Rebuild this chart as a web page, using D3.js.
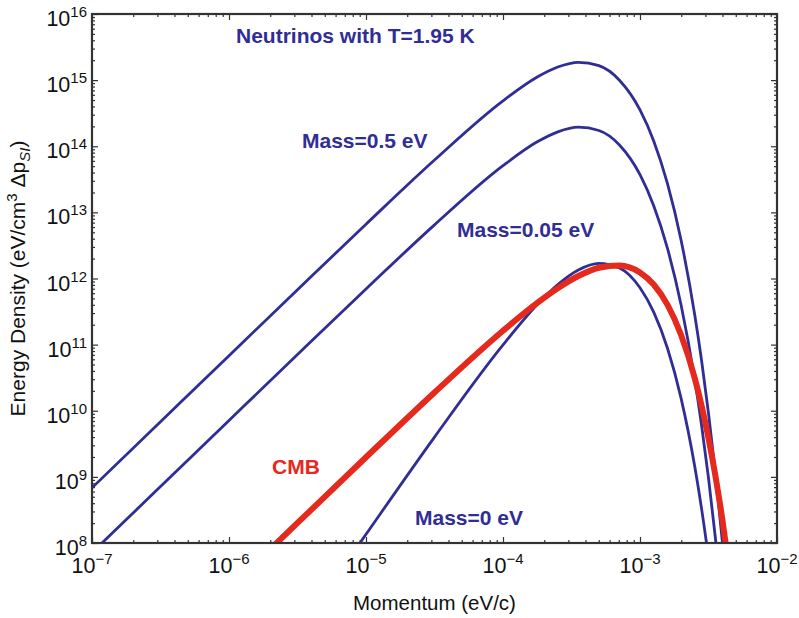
<!DOCTYPE html>
<html>
<head>
<meta charset="utf-8">
<script src="https://cdn.jsdelivr.net/npm/d3@7/dist/d3.min.js"></script>
<style>
  html, body { margin: 0; padding: 0; background: #fff; }
  svg { display: block; font-family: "Liberation Sans", Arial, Helvetica, sans-serif; }
</style>
</head>
<body>
<svg id="chart" width="799" height="618"></svg>
<script>
// Momentum grid (eV/c)
const momentum = [1e-7, 3.162e-7, 1e-6, 3.162e-6, 1e-5, 3.162e-5, 1e-4, 1.778e-4, 2.512e-4,
  3.548e-4, 5.012e-4, 7.079e-4, 1e-3, 1.259e-3, 1.585e-3, 1.995e-3, 2.512e-3, 2.818e-3,
  3.162e-3, 3.548e-3, 3.981e-3, 4.467e-3];

// Energy density per momentum bin (eV/cm^3 per Δp_SI)
const nuMass05 = [6.83e8, 6.82e9, 6.81e10, 6.77e11, 6.63e12, 6.19e13, 4.86e14, 1.113e15, 1.579e15,
  1.857e15, 1.654e15, 9.98e14, 3.545e14, 1.204e14, 2.747e13, 3.784e12, 2.772e11, 5.65e10,
  9.165e9, 1.157e9, 1.104e8, 7.80e6];
const nuMass005 = [7.15e7, 7.14e8, 7.13e9, 7.09e10, 6.94e11, 6.48e12, 5.09e13, 1.166e14, 1.653e14,
  1.945e14, 1.732e14, 1.045e14, 3.711e13, 1.261e13, 2.876e12, 3.962e11, 2.902e10, 5.92e9,
  9.60e8, 1.212e8, 1.156e7, 8.17e5];
const nuMass0 = [1.39e2, 4.41e3, 1.39e5, 4.37e6, 1.353e8, 4.00e9, 9.91e10, 4.04e11, 8.09e11,
  1.345e12, 1.692e12, 1.443e12, 7.23e11, 3.095e11, 8.88e10, 1.542e10, 1.422e9, 3.25e8,
  5.92e7, 8.38e6, 8.97e5, 7.11e4];
const cmb = [2.02e5, 2.02e6, 2.02e7, 2.01e8, 1.98e9, 1.889e10, 1.622e11, 4.276e11, 7.13e11,
  1.089e12, 1.455e12, 1.576e12, 1.235e12, 8.10e11, 4.02e11, 1.396e11, 3.086e10, 1.184e10,
  3.858e9, 1.053e9, 2.355e8, 4.20e7];

const xTickExps = [-7, -6, -5, -4, -3, -2];
const yTickExps = [8, 9, 10, 11, 12, 13, 14, 15, 16];

const seriesNames = ["Mass=0.5 eV", "Mass=0.05 eV", "Mass=0 eV", "CMB"];
const titleText = "Neutrinos with T=1.95 K";

const BLUE = "#302d95";
const RED = "#e5291d";
const AXIS = "#333";

const svg = d3.select("#chart");
const margin = { left: 92, top: 14, right: 22, bottom: 75 };
const W = 799, H = 618;

const x = d3.scaleLog().domain([1e-7, 1e-2]).range([margin.left, W - margin.right]);
const y = d3.scaleLog().domain([1e8, 1e16]).range([H - margin.bottom, margin.top]);

const [x0, x1] = x.range();
const [y0, y1] = y.range(); // y0 bottom, y1 top

svg.append("defs").append("clipPath").attr("id", "plot-clip")
  .append("rect").attr("x", x0).attr("y", y1).attr("width", x1 - x0).attr("height", y0 - y1);

// Minor/major tick values for log axes
function logMinors(lo, hi) {
  const out = [];
  for (let e = lo; e < hi; e++) for (let m = 2; m <= 9; m++) out.push(m * Math.pow(10, e));
  return out;
}
const xMajor = xTickExps.map(e => Math.pow(10, e));
const yMajor = yTickExps.map(e => Math.pow(10, e));
const xMinor = logMinors(-7, -2);
const yMinor = logMinors(8, 16);

function tickAxis(gen, values, size, transform) {
  svg.append("g").attr("transform", transform)
    .call(gen.tickValues(values).tickSize(size).tickSizeOuter(0).tickFormat(""))
    .call(g => g.select(".domain").remove())
    .call(g => g.selectAll("line").attr("stroke", AXIS).attr("stroke-width", 1.2));
}
// inward ticks on all four sides
tickAxis(d3.axisBottom(x), xMajor, -6, `translate(0,${y0})`);
tickAxis(d3.axisBottom(x), xMinor, -3, `translate(0,${y0})`);
tickAxis(d3.axisTop(x), xMajor, -6, `translate(0,${y1})`);
tickAxis(d3.axisTop(x), xMinor, -3, `translate(0,${y1})`);
tickAxis(d3.axisLeft(y), yMajor, -6, `translate(${x0},0)`);
tickAxis(d3.axisLeft(y), yMinor, -3, `translate(${x0},0)`);
tickAxis(d3.axisRight(y), yMajor, -6, `translate(${x1},0)`);
tickAxis(d3.axisRight(y), yMinor, -3, `translate(${x1},0)`);

// Curves
const line = d3.line()
  .x(d => x(d[0]))
  .y(d => y(d[1]))
  .curve(d3.curveMonotoneX);

const plot = svg.append("g").attr("clip-path", "url(#plot-clip)");
const blueSeries = [nuMass05, nuMass005, nuMass0];
blueSeries.forEach(vals => {
  plot.append("path")
    .datum(momentum.map((p, i) => [p, vals[i]]))
    .attr("d", line)
    .attr("fill", "none")
    .attr("stroke", BLUE)
    .attr("stroke-width", 2.8);
});
plot.append("path")
  .datum(momentum.map((p, i) => [p, cmb[i]]))
  .attr("d", line)
  .attr("fill", "none")
  .attr("stroke", RED)
  .attr("stroke-width", 6)
  .attr("stroke-linecap", "butt");

// Frame
svg.append("rect")
  .attr("x", x0).attr("y", y1).attr("width", x1 - x0).attr("height", y0 - y1)
  .attr("fill", "none").attr("stroke", AXIS).attr("stroke-width", 2.2);

// Tick labels: 10 with superscript exponent
const tickFont = 21.5, supFont = 15;
xTickExps.forEach(e => {
  const t = svg.append("text")
    .attr("x", x(Math.pow(10, e)))
    .attr("y", y0 + 30)
    .attr("text-anchor", "middle")
    .attr("fill", "#111")
    .attr("font-size", tickFont);
  t.append("tspan").text("10");
  t.append("tspan").attr("dy", -9).attr("font-size", supFont).text("\u2212" + Math.abs(e));
});
yTickExps.forEach(e => {
  const t = svg.append("text")
    .attr("x", x0 - 5)
    .attr("y", y(Math.pow(10, e)) + 12)
    .attr("text-anchor", "end")
    .attr("fill", "#111")
    .attr("font-size", tickFont);
  t.append("tspan").text("10");
  t.append("tspan").attr("dy", -9).attr("font-size", supFont).text(String(e));
});

// Axis titles
svg.append("text")
  .attr("x", (x0 + x1) / 2)
  .attr("y", 610)
  .attr("text-anchor", "middle")
  .attr("font-size", 20.5)
  .attr("fill", "#111")
  .text("Momentum (eV/c)");

const yl = svg.append("text")
  .attr("transform", `translate(25,${(y0 + y1) / 2}) rotate(-90)`)
  .attr("text-anchor", "middle")
  .attr("font-size", 21)
  .attr("fill", "#111");
yl.append("tspan").text("Energy Density (eV/cm");
yl.append("tspan").attr("dy", -8).attr("font-size", 15).text("3");
yl.append("tspan").attr("dy", 8).text(" \u0394p");
yl.append("tspan").attr("dy", 5).attr("font-size", 15).attr("font-style", "italic").text("SI");
yl.append("tspan").attr("dy", -5).text(")");

// Annotations
const ann = [
  { text: titleText, x: 236, y: 43, color: BLUE },
  { text: seriesNames[0], x: 302, y: 148, color: BLUE },
  { text: seriesNames[1], x: 457, y: 237, color: BLUE },
  { text: seriesNames[2], x: 415, y: 525, color: BLUE },
  { text: seriesNames[3], x: 272, y: 474, color: RED }
];
ann.forEach(a => {
  svg.append("text")
    .attr("x", a.x).attr("y", a.y)
    .attr("font-size", 21)
    .attr("font-weight", "bold")
    .attr("fill", a.color)
    .text(a.text);
});
</script>
</body>
</html>
